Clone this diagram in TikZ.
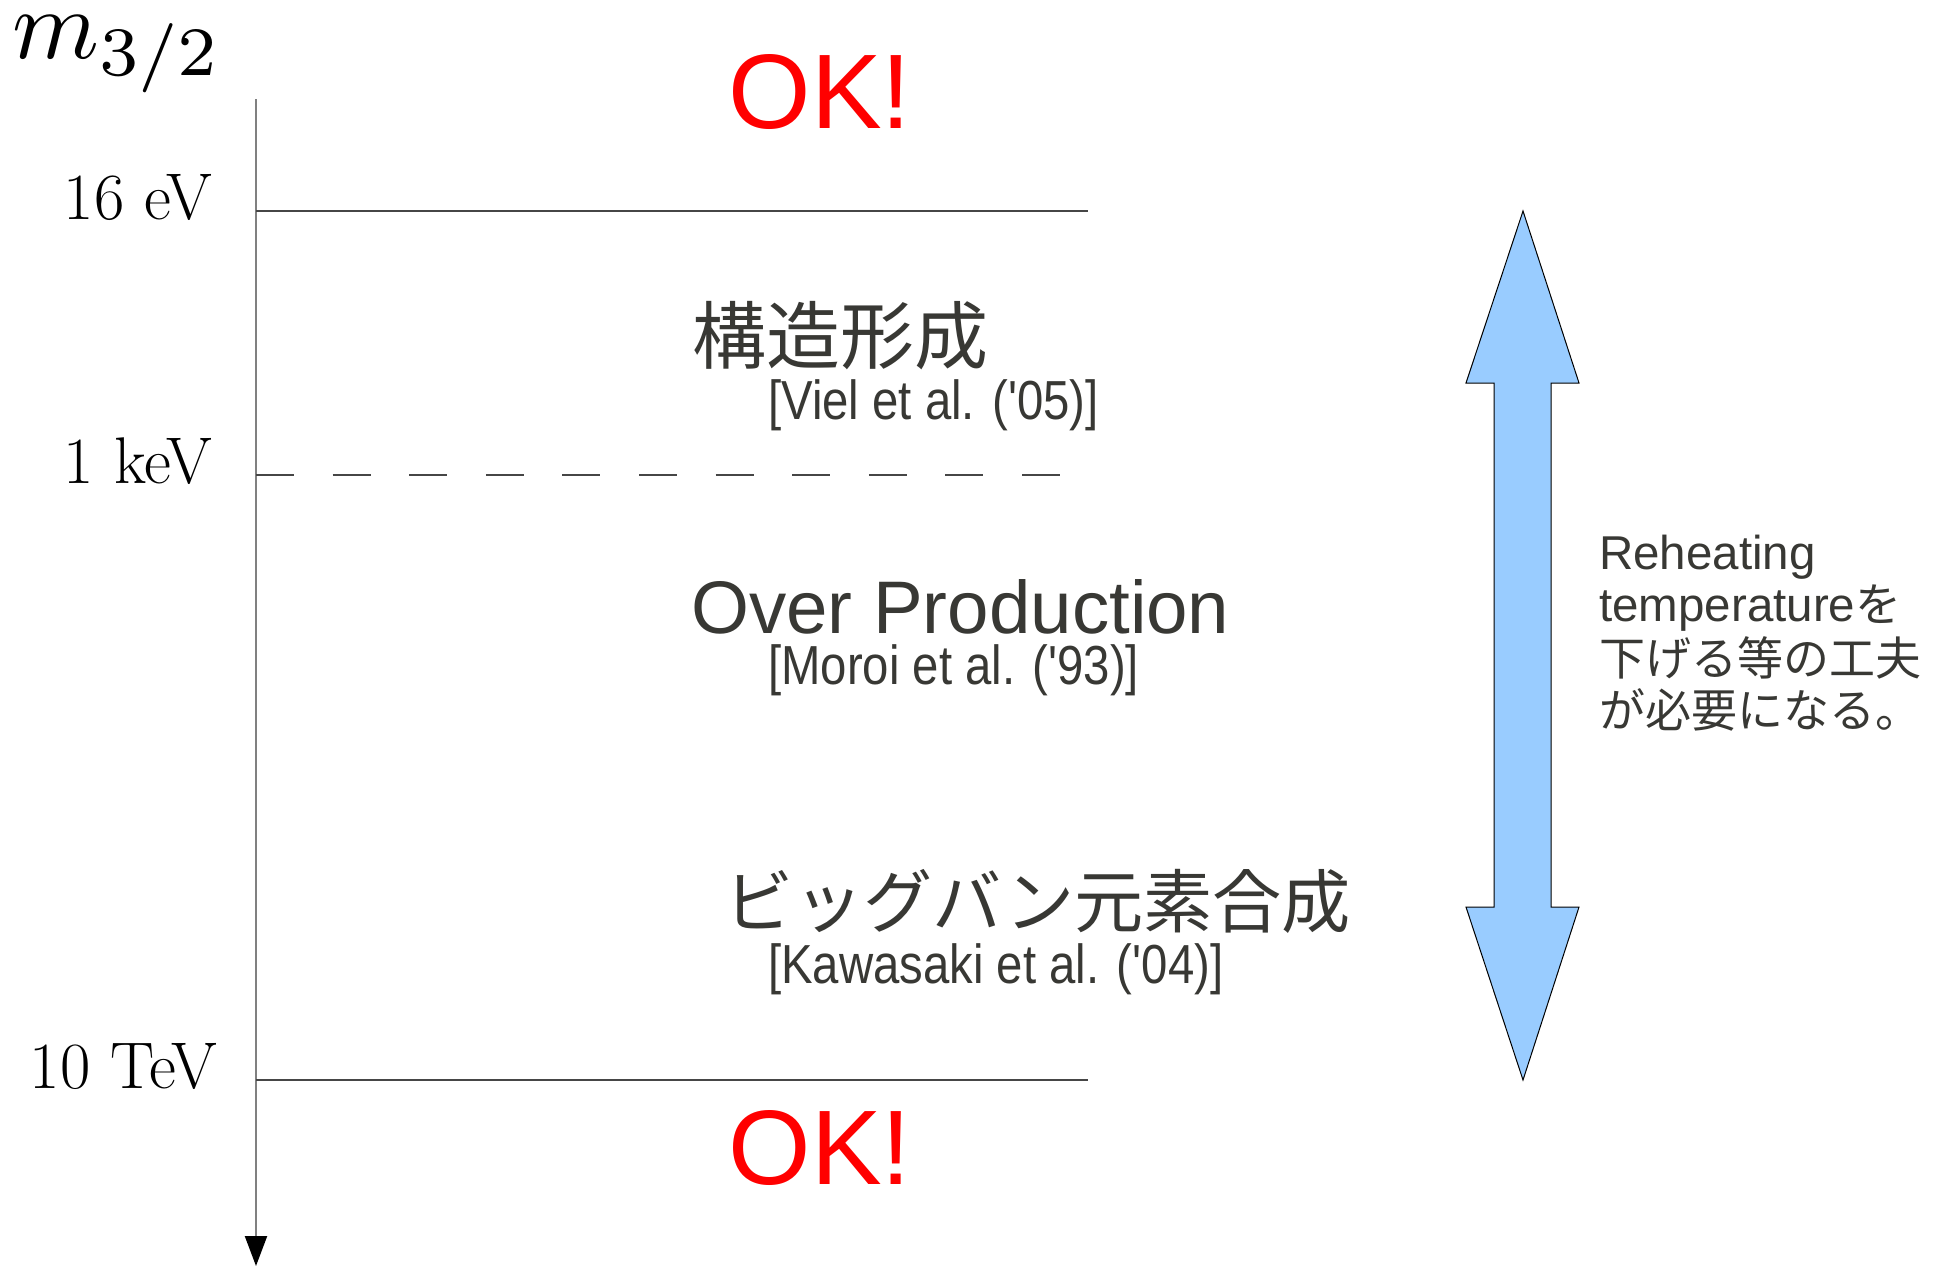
\documentclass[tikz,border=0pt]{standalone}
\usepackage{fontspec}
\usepackage{graphicx}
\newfontfamily\arialf{Liberation Sans}
\newfontfamily\cjkf{Noto Sans CJK JP}
\usetikzlibrary{arrows.meta}
\definecolor{txtgray}{RGB}{56,56,52}
\definecolor{arrowblue}{RGB}{153,204,255}
\definecolor{okred}{RGB}{255,0,0}
\definecolor{axisgray}{RGB}{128,128,128}
\definecolor{linegray}{RGB}{70,70,70}
\tikzset{
  valabel/.style={anchor=base east, inner sep=0pt, font=\fontsize{66}{70}\selectfont},
  oktext/.style={anchor=base, inner sep=0pt, text=okred, font=\arialf\fontsize{106}{110}\selectfont},
  region/.style={anchor=base, inner sep=0pt, text=txtgray},
  regionlatin/.style={anchor=base west, inner sep=0pt, text=txtgray, font=\arialf\fontsize{74.5}{80}\selectfont},
  citation/.style={anchor=base west, inner sep=0pt, text=txtgray, font=\arialf\fontsize{55}{60}\selectfont},
  note/.style={anchor=base west, inner sep=0pt, text=txtgray, font=\arialf\fontsize{47.5}{52}\selectfont},
  level/.style={draw=linegray, line width=1.4pt},
}
\begin{document}
\begin{tikzpicture}[x=1pt,y=-1pt]
\useasboundingbox (0,0) rectangle (1943,1266);

% axis
\coordinate (axtop) at (256,99);
\coordinate (axbot) at (256,1266);
\draw[axisgray, line width=2.2pt, -{Triangle[length=30pt,width=22pt,color=black]}] (axtop) -- (axbot);

\node[anchor=base west, inner sep=0pt] (mass) at (12,58) {\scalebox{9.9}{$m_{3/2}$}};

% levels
\coordinate (l1a) at (256,211);  \coordinate (l1b) at (1088,211);
\coordinate (l2a) at (256,475);  \coordinate (l2b) at (1062,475);
\coordinate (l3a) at (256,1080); \coordinate (l3b) at (1088,1080);
\draw[level] (l1a) -- (l1b);
\draw[level, dash pattern=on 38pt off 38.6pt] (l2a) -- (l2b);
\draw[level] (l3a) -- (l3b);

\node[valabel] (v1) at (212,219) {16 eV};
\node[valabel] (v2) at (212,483) {1 keV};
\node[valabel] (v3) at (217,1088) {10 TeV};

% OK labels
\node[oktext] (ok1) at (820,128) {OK!};
\node[oktext] (ok2) at (820,1184) {OK!};

% regions
\node[region, font=\cjkf\fontsize{74}{80}\selectfont] (r1) at (840,363) {構造形成};
\node[citation] (c1) at (768,419) {\scalebox{0.86}[1]{[Viel et al. ('05)]}};
\node[regionlatin] (r2) at (691,633) {Over Production};
\node[citation] (c2) at (768,684) {\scalebox{0.86}[1]{[Moroi et al. ('93)]}};
\node[region, font=\cjkf\fontsize{69.2}{75}\selectfont] (r3) at (1038,927) {ビッグバン元素合成};
\node[citation] (c3) at (768,983) {\scalebox{0.86}[1]{[Kawasaki et al. ('04)]}};

% big double arrow
\draw[fill=arrowblue, draw=black, line width=1pt, line join=miter]
  (1523,211) -- (1579,383) -- (1551,383) -- (1551,907) -- (1579,907) --
  (1523,1080) -- (1466,907) -- (1494,907) -- (1494,383) -- (1466,383) -- cycle;

% note
\node[note] (n1) at (1599,569) {Reheating};
\node[note] (n2) at (1599,621) {temperature{\cjkf\fontsize{46}{52}\selectfont を}};
\node[note, font=\cjkf\fontsize{46}{52}\selectfont] (n3) at (1599,675) {下げる等の工夫};
\node[note, font=\cjkf\fontsize{46}{52}\selectfont] (n4) at (1599,727) {が必要になる。};
\end{tikzpicture}
\end{document}
